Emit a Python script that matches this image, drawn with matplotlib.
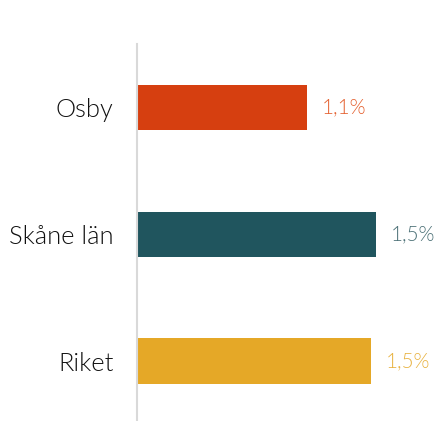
import matplotlib
matplotlib.use("Agg")
import matplotlib.pyplot as plt

categories = ["Osby", "Skåne län", "Riket"]
values = [1.08, 1.52, 1.49]
value_labels = ["1,1%", "1,5%", "1,5%"]
colors = ["#D63F10", "#20555E", "#E5A827"]
label_colors = ["#E4602F", "#4A6F75", "#E8B240"]

plt.rcParams['font.family'] = ['Lato', 'DejaVu Sans']

W, H = 437, 421
fig = plt.figure(figsize=(W / 100, H / 100), dpi=100)
ax_left = 137 / W
ax_bottom = 0.0
ax_top = 1 - 44 / H
ax = fig.add_axes([ax_left, ax_bottom, 1 - ax_left, ax_top - ax_bottom])

ypos = list(range(len(categories)))
ax.barh(ypos, values, height=0.36, color=colors, left=0.006)
ax.set_xlim(0, (W - 137) / 156.6)
ax.set_ylim(2.47, -0.5)

for y, v, lab, c in zip(ypos, values, value_labels, label_colors):
    ax.annotate(lab, (v + 0.006, y), xytext=(15, 0), textcoords="offset pixels",
                va="center", ha="left", fontsize=14.8, color=c, fontweight=300)

ax.set_yticks(ypos)
ax.set_yticklabels(categories, fontsize=18.3, color="#111111", fontweight=300)
ax.tick_params(axis="y", length=0, pad=17)
ax.set_xticks([])
for s in ["top", "right", "bottom"]:
    ax.spines[s].set_visible(False)
ax.spines["left"].set_color("#D9D9D9")
ax.spines["left"].set_linewidth(1.5)

fig.savefig("out.png", dpi=100)
